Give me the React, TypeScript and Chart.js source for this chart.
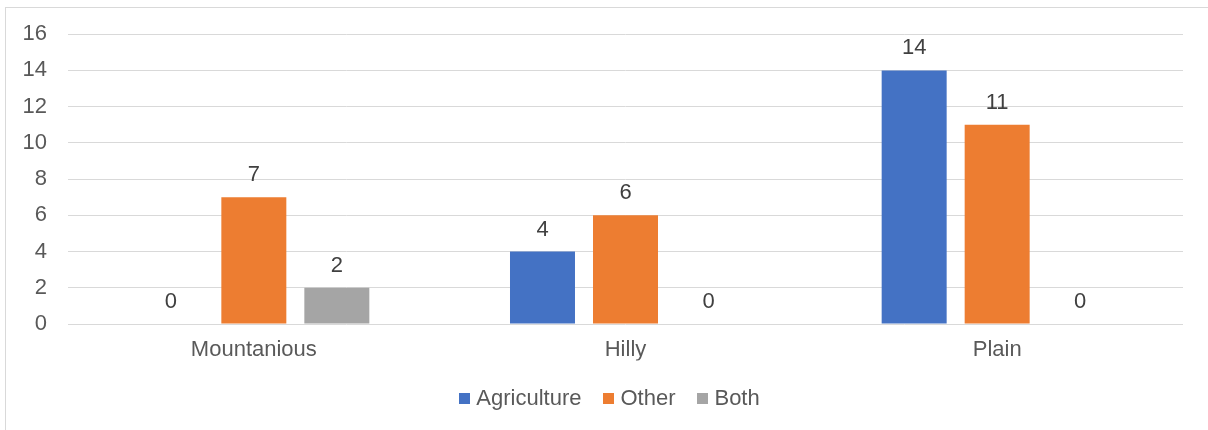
import React, { useEffect, useRef } from "react";
import { Chart, registerables } from "chart.js";

Chart.register(...registerables);

const categories = ["Mountanious", "Hilly", "Plain"];
const agriculture = [0, 4, 14];
const other = [7, 6, 11];
const both = [2, 0, 0];
const seriesNames = ["Agriculture", "Other", "Both"];
const seriesColors = ["#4472C4", "#ED7D31", "#A5A5A5"];

const FONT = "'Liberation Sans', Arial, sans-serif";

// Small square swatch used as the legend marker
function swatch(color: string): HTMLCanvasElement {
  const c = document.createElement("canvas");
  c.width = 11;
  c.height = 11;
  const g = c.getContext("2d");
  if (g) {
    g.fillStyle = color;
    g.fillRect(0, 0, 11, 11);
  }
  return c;
}

// Writes each bar's value just above its top edge
const valueLabels = {
  id: "valueLabels",
  afterDatasetsDraw(chart: any) {
    const { ctx } = chart;
    ctx.save();
    ctx.font = `22px ${FONT}`;
    ctx.fillStyle = "#404040";
    ctx.textAlign = "center";
    ctx.textBaseline = "alphabetic";
    chart.data.datasets.forEach((ds: any, i: number) => {
      const meta = chart.getDatasetMeta(i);
      meta.data.forEach((bar: any, j: number) => {
        ctx.fillText(String(ds.data[j]), bar.x, bar.y - 16);
      });
    });
    ctx.restore();
  },
};

export default function App() {
  const canvasRef = useRef<HTMLCanvasElement | null>(null);

  useEffect(() => {
    if (!canvasRef.current) return;
    const values = [agriculture, other, both];
    const swatches = seriesColors.map(swatch);
    const chart = new Chart(canvasRef.current, {
      type: "bar",
      data: {
        labels: categories,
        datasets: seriesNames.map((name, i) => ({
          label: name,
          data: values[i],
          backgroundColor: seriesColors[i],
          borderWidth: 0,
          categoryPercentage: 0.67,
          barPercentage: 0.783,
        })),
      },
      options: {
        animation: false,
        responsive: false,
        devicePixelRatio: 1,
        layout: { padding: { left: 0, right: -16, top: 34, bottom: 10.5 } },
        scales: {
          x: {
            grid: { display: false, drawTicks: false },
            border: { display: false },
            ticks: {
              color: "#595959",
              font: { family: FONT, size: 22 },
              padding: 12.5,
            },
            afterFit(scale: any) {
              scale.height = 36.5;
            },
          },
          y: {
            min: 0,
            max: 16,
            ticks: {
              stepSize: 2,
              color: "#595959",
              font: { family: FONT, size: 22 },
              padding: 21,
            },
            grid: { color: "#D9D9D9", lineWidth: 1, drawTicks: false },
            border: { display: false },
            afterFit(scale: any) {
              scale.width = 68;
            },
          },
          // empty right-hand margin of the plot
          yRight: {
            position: "right",
            grid: { display: false, drawTicks: false },
            border: { display: false },
            ticks: { display: false },
            afterFit(scale: any) {
              scale.width = 41;
            },
          },
        },
        plugins: {
          legend: {
            position: "bottom",
            labels: {
              color: "#595959",
              font: { family: FONT, size: 22 },
              usePointStyle: true,
              boxWidth: 1,
              boxHeight: 11,
              padding: 27,
              generateLabels(c: any) {
                const items = Chart.defaults.plugins.legend.labels.generateLabels(c);
                return items.map((it: any, i: number) => ({
                  ...it,
                  pointStyle: swatches[i],
                }));
              },
            },
          },
          tooltip: { enabled: false },
        },
      },
      plugins: [valueLabels],
    });
    return () => chart.destroy();
  }, []);

  return (
    <div
      style={{
        position: "fixed",
        left: 0,
        top: 0,
        width: 1208,
        height: 430,
        overflow: "hidden",
        background: "#ffffff",
      }}
    >
      <div
        style={{
          position: "absolute",
          left: 5,
          top: 7,
          width: 1220,
          height: 440,
          border: "1px solid #D9D9D9",
        }}
      />
      <canvas
        ref={canvasRef}
        width={1208}
        height={430}
        style={{ position: "absolute", left: 0, top: 0 }}
      />
    </div>
  );
}
